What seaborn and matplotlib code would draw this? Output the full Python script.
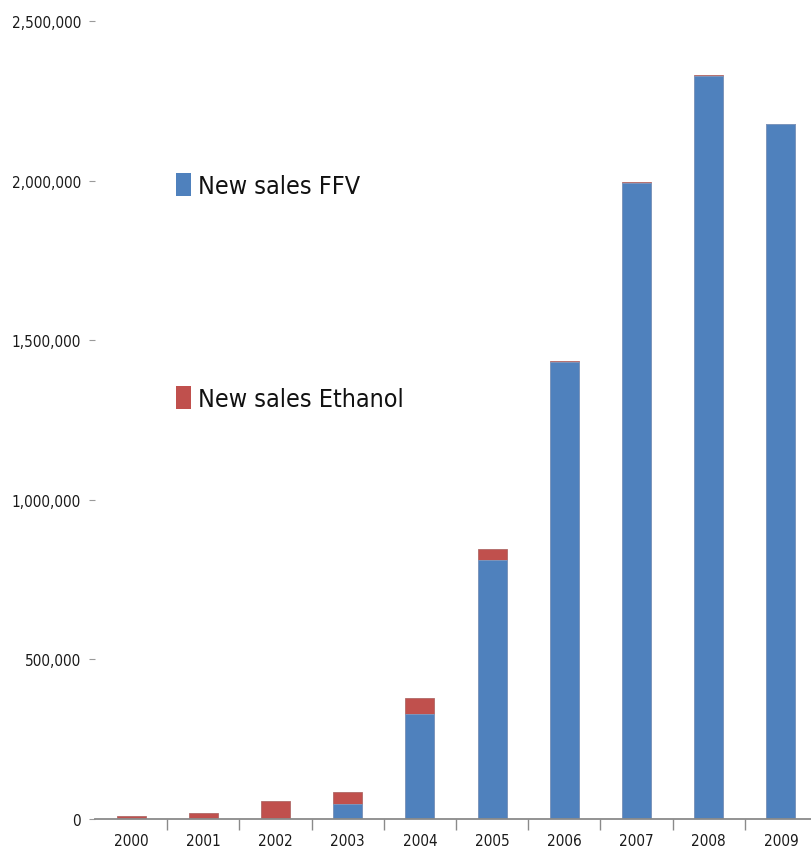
import matplotlib
matplotlib.use("Agg")
import matplotlib.pyplot as plt
from matplotlib.patches import Patch
from matplotlib.ticker import FuncFormatter, FixedLocator
import seaborn as sns
import pandas as pd

# New light-vehicle sales in Brazil by fuel type
years = ["2000", "2001", "2002", "2003", "2004", "2005", "2006", "2007", "2008", "2009"]
ffv_sales = [0, 0, 0, 48178, 328379, 812104, 1430334, 1992000, 2327000, 2177000]
ethanol_sales = [10292, 18335, 55961, 36380, 50950, 32357, 4000, 3000, 3000, 0]
y_ticks = [0, 500000, 1000000, 1500000, 2000000, 2500000]

series_labels = ["New sales FFV", "New sales Ethanol"]
blue = "#4F81BD"
red = "#C0504D"

sns.set_theme(style="white")
plt.rcParams["font.family"] = ["DejaVu Sans"]
plt.rcParams["font.stretch"] = "condensed"

df = pd.DataFrame({
    "year": years,
    "ffv": ffv_sales,
    "ethanol": ethanol_sales,
})
df["total"] = df["ffv"] + df["ethanol"]

fig = plt.figure(figsize=(8.12, 8.62), dpi=100)
W, H = 812, 862
ax = fig.add_axes([95 / W, 1 - 820 / H, 722 / W, (820 - 22) / H])

# stacked bars: full height in red, FFV portion drawn over it in blue
sns.barplot(data=df, x="year", y="total", order=years, color=red,
            saturation=1, width=0.4, ax=ax, edgecolor="#b06a68", linewidth=0.6)
sns.barplot(data=df, x="year", y="ffv", order=years, color=blue,
            saturation=1, width=0.4, ax=ax, edgecolor="#7d9cc4", linewidth=0.6)

ax.set_xlim(-0.5, 9.5)
ax.set_ylim(0, 2500000)
ax.set_xlabel("")
ax.set_ylabel("")

ax.yaxis.set_major_locator(FixedLocator(y_ticks))
ax.yaxis.set_major_formatter(FuncFormatter(lambda v, p: f"{int(v):,}"))

for s in ["top", "right", "left"]:
    ax.spines[s].set_visible(False)
ax.spines["bottom"].set_color("#8a8a8a")
ax.spines["bottom"].set_linewidth(1.3)

ax.tick_params(axis="y", which="major", left=True, length=4, width=0.8,
               color="#9a9a9a", pad=6, labelsize=11, labelcolor="#1a1a1a")
ax.tick_params(axis="x", which="major", bottom=False, length=0, pad=10,
               labelsize=11, labelcolor="#1a1a1a")
ax.xaxis.set_minor_locator(FixedLocator([i + 0.5 for i in range(9)]))
ax.tick_params(axis="x", which="minor", bottom=True, length=8, width=1,
               color="#8a8a8a")

handles = [Patch(facecolor=blue, edgecolor="none"),
           Patch(facecolor=red, edgecolor="none")]
fig.legend(handles, series_labels, loc="upper left",
           bbox_to_anchor=(176 / W, 1 - 174 / H), frameon=False,
           fontsize=18, handlelength=0.6, handleheight=1.05,
           handletextpad=0.3, labelspacing=7.5, borderpad=0,
           borderaxespad=0, labelcolor="#111111")

fig.savefig("out.png", dpi=100)
